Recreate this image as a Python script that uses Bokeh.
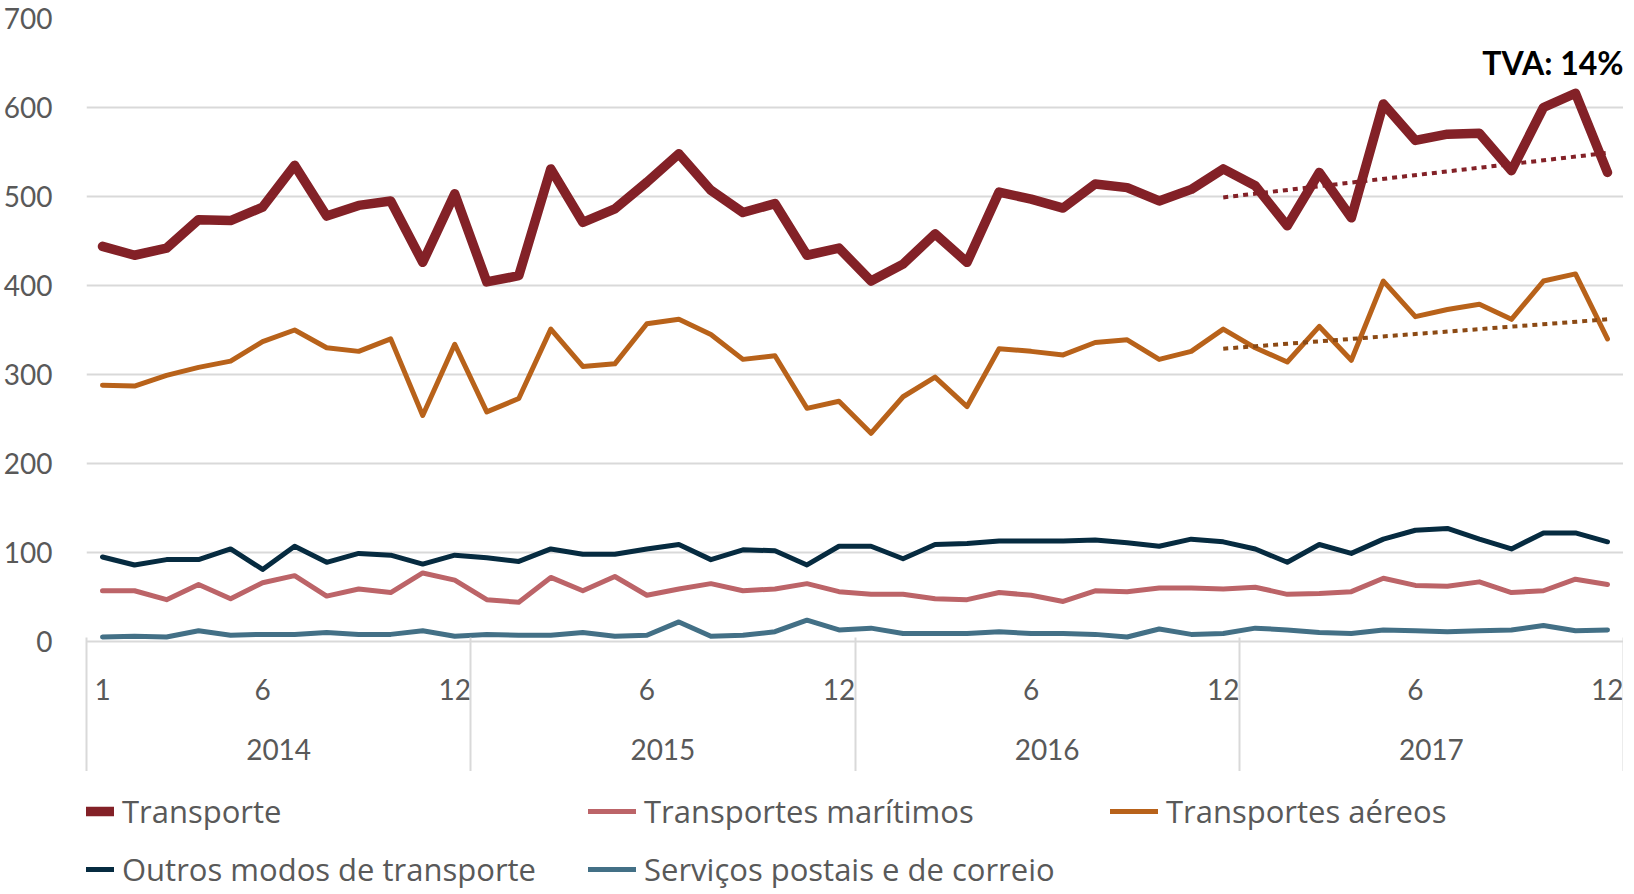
from bokeh.plotting import figure
from bokeh.layouts import column
from bokeh.models import FixedTicker, LinearAxis, Range1d, Legend, LegendItem, Label
from bokeh.embed import file_html
from bokeh.resources import INLINE

# ---------------- data ----------------
years = ["2014", "2015", "2016", "2017"]
month_tick_idx = [1, 6, 12, 18, 24, 30, 36, 42, 48]
month_tick_labels = ["1", "6", "12", "6", "12", "6", "12", "6", "12"]

transporte = [444, 434, 442, 474, 473, 488, 535, 478, 490, 495,
              426, 503, 404, 411, 531, 471, 486, 516, 548, 507,
              482, 492, 434, 442, 405, 424, 458, 426, 505, 497,
              487, 514, 510, 495, 508, 531, 512, 467, 527, 476,
              604, 563, 570, 571, 529, 600, 616, 527]
maritimos = [57, 57, 47, 64, 48, 66, 74, 51, 59, 55,
             77, 69, 47, 44, 72, 57, 73, 52, 59, 65,
             57, 59, 65, 56, 53, 53, 48, 47, 55, 52,
             45, 57, 56, 60, 60, 59, 61, 53, 54, 56,
             71, 63, 62, 67, 55, 57, 70, 64]
aereos = [288, 287, 299, 308, 315, 337, 350, 330, 326, 340,
          254, 334, 258, 273, 351, 309, 312, 357, 362, 345,
          317, 321, 262, 270, 234, 275, 297, 264, 329, 326,
          322, 336, 339, 317, 326, 351, 330, 314, 354, 316,
          405, 365, 373, 379, 362, 405, 413, 340]
outros = [95, 86, 92, 92, 104, 81, 107, 89, 99, 97,
          87, 97, 94, 90, 104, 98, 98, 104, 109, 92,
          103, 102, 86, 107, 107, 93, 109, 110, 113, 113,
          113, 114, 111, 107, 115, 112, 104, 89, 109, 99,
          115, 125, 127, 115, 104, 122, 122, 112]
postais = [5, 6, 5, 12, 7, 8, 8, 10, 8, 8,
           12, 6, 8, 7, 7, 10, 6, 7, 22, 6,
           7, 11, 24, 13, 15, 9, 9, 9, 11, 9,
           9, 8, 5, 14, 8, 9, 15, 13, 10, 9,
           13, 12, 11, 12, 13, 18, 12, 13]

# trend lines (Dec 2016 -> Dec 2017), end values
trend_idx = [36, 48]
trend_transporte = [499, 549]
trend_aereos = [329, 362]

annotation_text = "TVA: 14%"
annotation_value = 651

series_names = ["Transporte", "Transportes marítimos", "Transportes aéreos",
                "Outros modos de transporte", "Serviços postais e de correio"]

n = len(transporte)
x = list(range(1, n + 1))

FONT = "Lato"
TXT = "#595959"
GRID = "#d9d9d9"

C_TR = "#832127"
C_MA = "#bc6468"
C_AE = "#b8621a"
C_OU = "#062b40"
C_PO = "#437086"

p = figure(frame_width=1537, frame_height=623, output_backend="svg",
           toolbar_location=None,
           x_range=Range1d(0.5, n + 0.5), y_range=Range1d(0, 700),
           min_border_left=81, min_border_right=0, min_border_top=18,
           min_border_bottom=0)
p.outline_line_color = None
p.background_fill_color = "white"
p.border_fill_color = "white"

# grid
p.xgrid.visible = False
p.ygrid.grid_line_color = GRID
p.ygrid.grid_line_width = 2

# y axis
p.yaxis.ticker = FixedTicker(ticks=list(range(0, 701, 100)))
p.yaxis.axis_line_color = None
p.yaxis.major_tick_line_color = None
p.yaxis.minor_tick_line_color = None
p.yaxis.major_label_text_font = FONT
p.yaxis.major_label_text_font_size = "28px"
p.yaxis.major_label_text_color = TXT
p.yaxis.major_label_standoff = 28

# month axis
xa = p.xaxis[0]
xa.ticker = FixedTicker(ticks=month_tick_idx, minor_ticks=[])
xa.major_label_overrides = {t: l for t, l in zip(month_tick_idx, month_tick_labels)}
xa.axis_line_color = GRID
xa.axis_line_width = 2
xa.major_tick_line_color = None
xa.major_tick_out = 0
xa.major_tick_in = 0
xa.minor_tick_line_color = None
xa.major_label_text_font = FONT
xa.major_label_text_font_size = "28px"
xa.major_label_text_color = TXT
xa.major_label_standoff = 37

# year axis
year_pos = [6.5 + 12 * i for i in range(len(years))]
ya = LinearAxis(ticker=FixedTicker(ticks=year_pos, minor_ticks=[]),
                major_label_overrides={t: y for t, y in zip(year_pos, years)})
ya.axis_line_color = None
ya.major_tick_line_color = None
ya.minor_tick_line_color = None
ya.major_label_text_font = FONT
ya.major_label_text_font_size = "28px"
ya.major_label_text_color = TXT
ya.major_label_standoff = 30
p.add_layout(ya, "below")

# separator axis: its ticks reach up to the plot as year dividers
sep = [0.5 + 12 * i for i in range(len(years) + 1)]
sa = LinearAxis(ticker=FixedTicker(ticks=sep, minor_ticks=[]),
                major_label_overrides={t: "" for t in sep})
sa.axis_line_color = None
sa.major_tick_line_color = GRID
sa.major_tick_line_width = 2
sa.major_tick_in = 125
sa.major_tick_out = 9
sa.minor_tick_line_color = None
sa.major_label_text_font_size = "1px"
sa.major_label_standoff = 0
p.add_layout(sa, "below")

# series
p.line(x, postais, line_color=C_PO, line_width=5, line_cap="round", line_join="round")
p.line(x, outros, line_color=C_OU, line_width=5, line_cap="round", line_join="round")
p.line(x, maritimos, line_color=C_MA, line_width=5, line_cap="round", line_join="round")
p.line(x, aereos, line_color=C_AE, line_width=5, line_cap="round", line_join="round")
p.line(x, transporte, line_color=C_TR, line_width=9.5, line_cap="round", line_join="round")

p.line(trend_idx, trend_transporte, line_color=C_TR, line_width=4, line_dash="5 5")
p.line(trend_idx, trend_aereos, line_color="#8c4a14", line_width=4, line_dash="5 5")

p.add_layout(Label(x=n + 0.5, y=annotation_value, text=annotation_text,
                   text_align="right", text_baseline="middle",
                   text_font=FONT, text_font_style="bold",
                   text_font_size="32px", text_color="black"))

# ---------------- legend strip ----------------
# the same series are drawn here but fall outside this strip's (0..1) ranges,
# so only their legend samples show
q = figure(width=1618, height=119, output_backend="svg", toolbar_location=None,
           x_range=Range1d(0, 1), y_range=Range1d(0, 1),
           x_axis_location=None, y_axis_location=None,
           min_border=0)
q.outline_line_color = None
q.xgrid.visible = False
q.ygrid.visible = False

all_series = [transporte, maritimos, aereos, outros, postais]
colors = [C_TR, C_MA, C_AE, C_OU, C_PO]
widths = [9.5, 5, 5, 5, 5]
items = []
for name, s, c, w in zip(series_names, all_series, colors, widths):
    r = q.line(x, s, line_color=c, line_width=w, line_cap="round")
    items.append(LegendItem(label=name, renderers=[r]))

legend = Legend(items=items, ncols=3, orientation="horizontal", location=(-20, 0))
legend.border_line_color = None
legend.background_fill_alpha = 0
legend.label_text_font = "Open Sans"
legend.label_text_font_size = "31px"
legend.label_text_color = TXT
legend.glyph_width = 48
legend.glyph_height = 30
legend.label_height = 30
legend.label_standoff = 8
legend.label_width = 450
legend.spacing = 16
legend.padding = 0
legend.margin = 0
q.add_layout(legend)

layout = column(p, q, spacing=0)
open("out.html", "w").write(file_html(layout, INLINE))
